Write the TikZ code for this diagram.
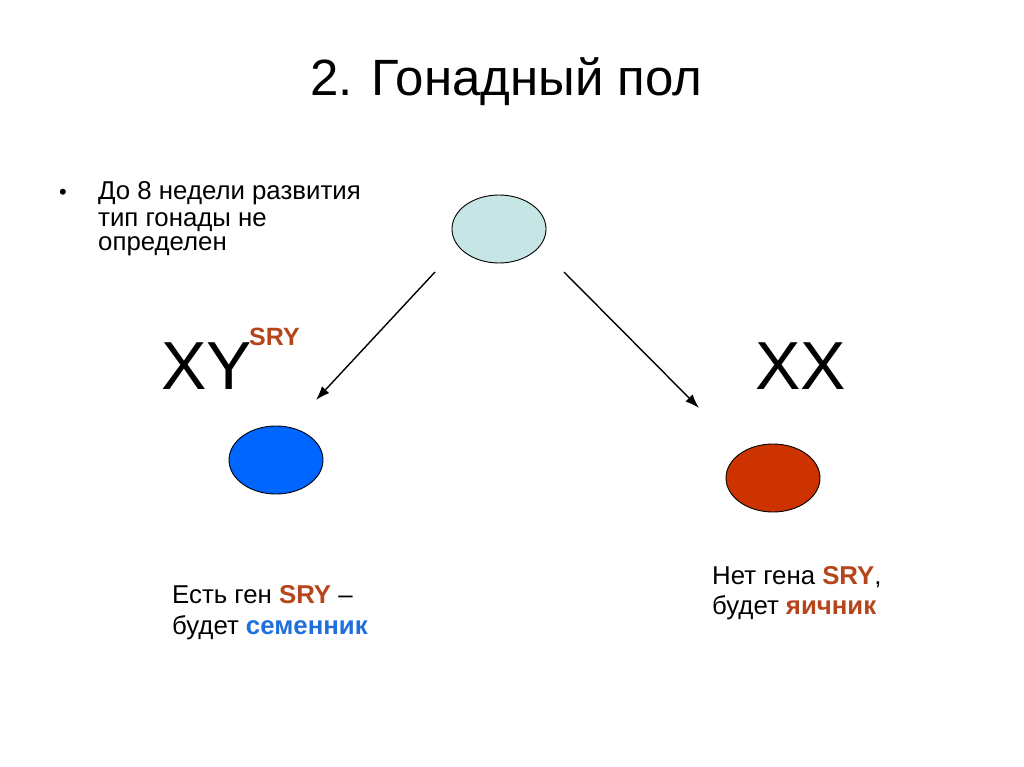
\documentclass[tikz,border=0pt]{standalone}
\usepackage{fontspec}
\setmainfont{Liberation Sans}
\usetikzlibrary{arrows.meta,shapes.geometric}
\definecolor{srycol}{HTML}{B5451B}
\definecolor{semcol}{HTML}{1F6FDC}
\definecolor{cyanfill}{HTML}{C6E6E6}
\definecolor{bluefill}{HTML}{0066FF}
\definecolor{redfill}{HTML}{CC3300}
\tikzset{
  gonad/.style={draw=black, line width=0.9pt, ellipse, minimum width=94pt, minimum height=68pt, inner sep=0pt},
  txt/.style={anchor=base west, inner sep=0pt, font=\fontsize{25.8}{30}\selectfont},
  arr/.style={-{Latex[length=14pt,width=10pt]}, line width=1.4pt},
}
\begin{document}
\begin{tikzpicture}[x=1pt,y=-1pt]
\useasboundingbox (0,0) rectangle (1024,767);
\fill[white] (0,0) rectangle (1024,767);
\node[anchor=base west, inner sep=0pt, font=\fontsize{51}{60}\selectfont] (title) at (310,96) {2. Гонадный пол};
\node[anchor=base west, inner sep=0pt, font=\fontsize{22}{26}\selectfont] (bullet) at (59,200) {•};
\node[txt] (l1) at (98,200) {До 8 недели развития};
\node[txt] (l2) at (98,226) {тип гонады не};
\node[txt] (l3) at (98,251) {определен};
\node[gonad, fill=cyanfill] (top) at (499,229) {};
\node[gonad, fill=bluefill] (blue) at (276,460) {};
\node[gonad, fill=redfill] (red) at (773,478) {};
\node[anchor=base west, inner sep=0pt, font=\fontsize{68}{80}\selectfont] (xy) at (161,389) {XY};
\node[anchor=base west, inner sep=0pt, font=\bfseries\fontsize{25}{30}\selectfont, text=srycol] (sry) at (249,345) {SRY};
\node[anchor=base west, inner sep=0pt, font=\fontsize{68}{80}\selectfont] (xx) at (755,389) {XX};
\coordinate (a1s) at (435,272);
\coordinate (a1e) at (316,400);
\coordinate (a2s) at (564,272);
\coordinate (a2e) at (699,408);
\draw[arr] (a1s) -- (a1e);
\draw[arr] (a2s) -- (a2e);
\node[txt] (e1) at (172,603) {Есть ген \textcolor{srycol}{\textbf{SRY}} –};
\node[txt] (e2) at (172,634) {будет \textcolor{semcol}{\textbf{семенник}}};
\node[txt] (n1) at (712,584) {Нет гена \textcolor{srycol}{\textbf{SRY}},};
\node[txt] (n2) at (712,614) {будет \textcolor{srycol}{\textbf{яичник}}};
\end{tikzpicture}
\end{document}
